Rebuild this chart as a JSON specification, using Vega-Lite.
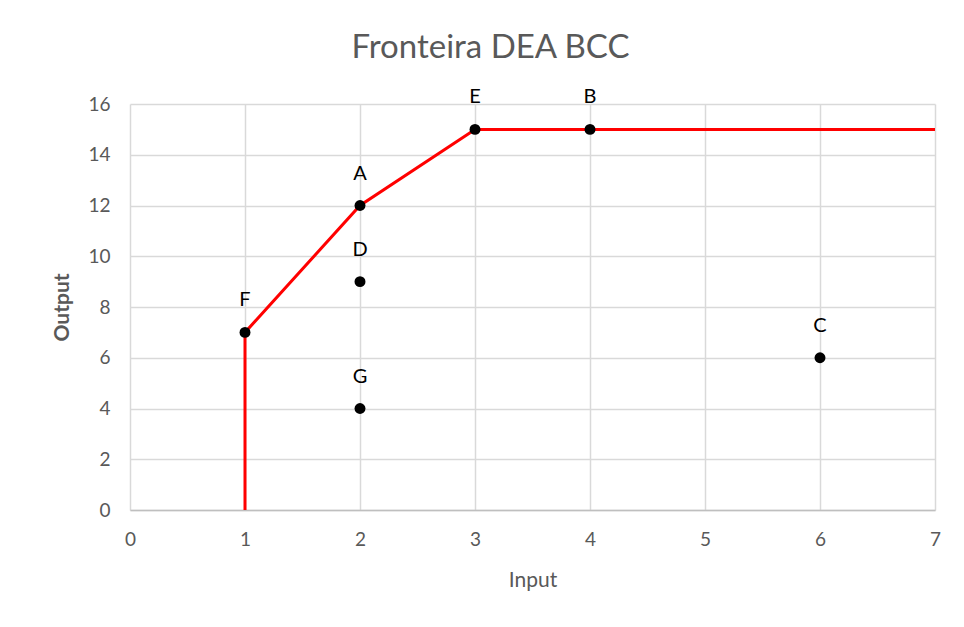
{
  "$schema": "https://vega.github.io/schema/vega-lite/v6.json",
  "width": 805,
  "height": 406,
  "autosize": {"type": "none"},
  "padding": {"left": 130, "top": 104, "right": 29, "bottom": 117},
  "background": "white",
  "title": {"text": "Fronteira DEA BCC", "font": "Lato", "fontSize": 33, "fontWeight": "normal", "color": "#595959", "anchor": "middle", "dx": -42, "offset": 22},
  "config": {
    "view": {"stroke": null},
    "axis": {"labelFont": "Lato", "titleFont": "Lato", "labelColor": "#595959", "titleColor": "#595959", "gridColor": "#d9d9d9", "gridWidth": 1.5, "ticks": false, "labelOverlap": false, "labelFlush": false, "labelBound": false}
  },
  "datasets": {
    "frontier": [
      {"x": 1, "y": 0}, {"x": 1, "y": 7}, {"x": 2, "y": 12}, {"x": 3, "y": 15}, {"x": 4, "y": 15}, {"x": 7, "y": 15}
    ],
    "dmus": [
      {"dmu": "A", "x": 2, "y": 12},
      {"dmu": "B", "x": 4, "y": 15},
      {"dmu": "C", "x": 6, "y": 6},
      {"dmu": "D", "x": 2, "y": 9},
      {"dmu": "E", "x": 3, "y": 15},
      {"dmu": "F", "x": 1, "y": 7},
      {"dmu": "G", "x": 2, "y": 4}
    ]
  },
  "layer": [
    {
      "data": {"name": "frontier"},
      "mark": {"type": "line", "color": "#ff0000", "strokeWidth": 3, "clip": false},
      "encoding": {
        "x": {"field": "x", "type": "quantitative", "scale": {"domain": [0, 7], "nice": false}, "axis": {"title": "Input", "values": [0,1,2,3,4,5,6,7], "format": "d", "labelFontSize": 19, "titleFontSize": 21, "titleFontWeight": "normal", "labelPadding": 20, "titlePadding": 20, "domainColor": "#bfbfbf", "domainWidth": 1.5}},
        "y": {"field": "y", "type": "quantitative", "scale": {"domain": [0, 16], "nice": false}, "axis": {"title": "Output", "values": [0,2,4,6,8,10,12,14,16], "format": "d", "labelFontSize": 19, "titleFontSize": 21, "titleFontWeight": "bold", "labelPadding": 20, "titlePadding": 15, "domain": false}}
      }
    },
    {
      "data": {"name": "dmus"},
      "mark": {"type": "point", "filled": true, "color": "black", "size": 120, "opacity": 1, "shape": "circle"},
      "encoding": {
        "x": {"field": "x", "type": "quantitative"},
        "y": {"field": "y", "type": "quantitative"}
      }
    },
    {
      "data": {"name": "dmus"},
      "mark": {"type": "text", "font": "Lato", "fontSize": 20, "color": "black", "baseline": "alphabetic", "dy": -26},
      "encoding": {
        "x": {"field": "x", "type": "quantitative"},
        "y": {"field": "y", "type": "quantitative"},
        "text": {"field": "dmu"}
      }
    }
  ]
}
